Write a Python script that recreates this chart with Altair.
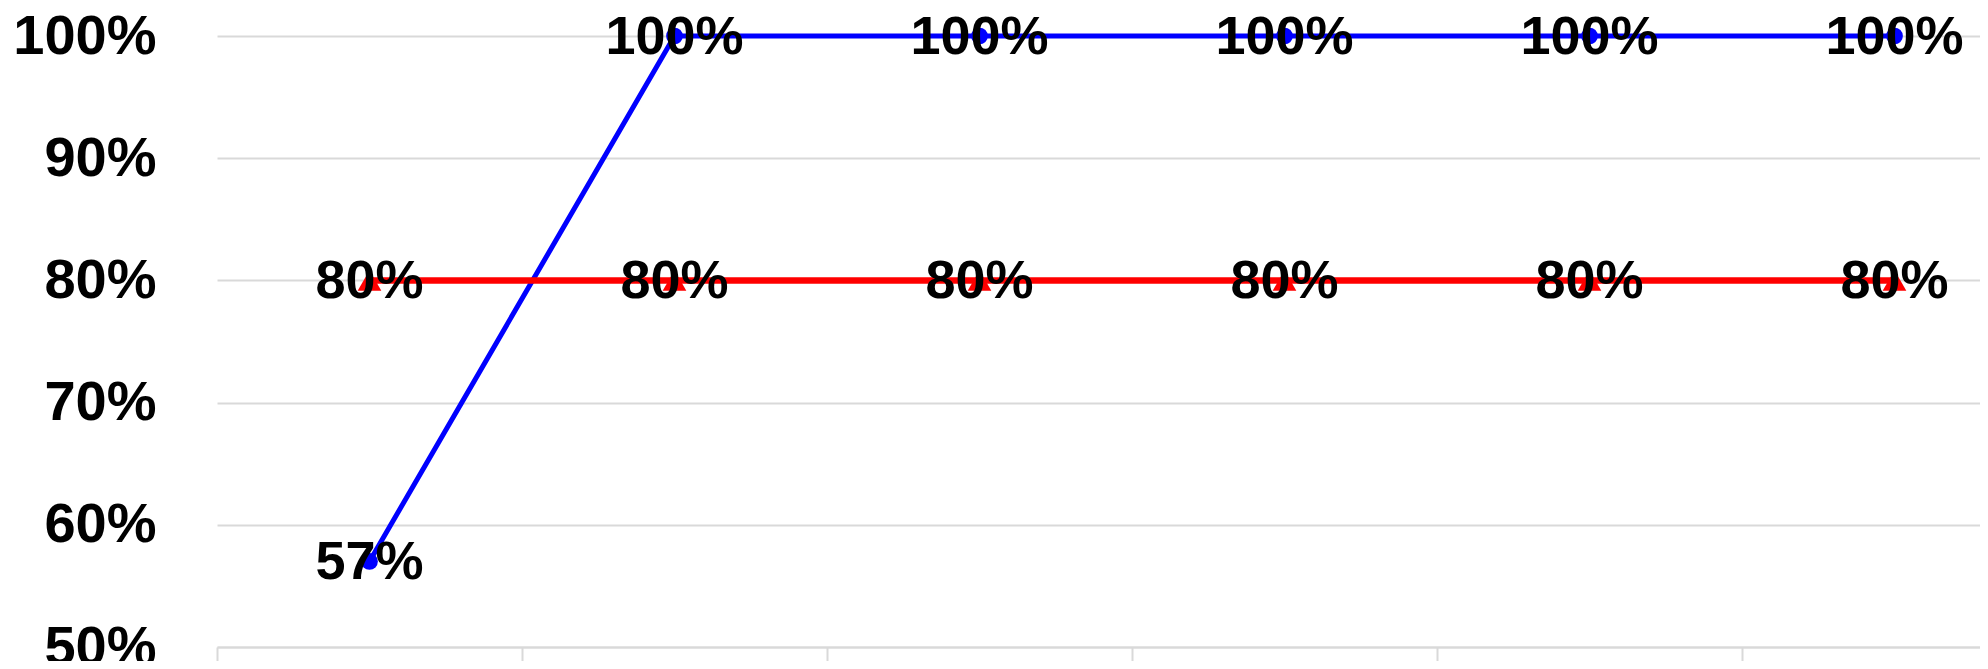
import altair as alt
import pandas as pd

categories = ["1", "2", "3", "4", "5", "6"]
series_names = ["Actual", "Target"]
actual_values = [0.57, 1.00, 1.00, 1.00, 1.00, 1.00]
target_values = [0.80, 0.80, 0.80, 0.80, 0.80, 0.80]
y_ticks = [0.5, 0.6, 0.7, 0.8, 0.9, 1.0]

rows = []
for c, v in zip(categories, actual_values):
    rows.append({"cat": c, "series": series_names[0], "value": v})
for c, v in zip(categories, target_values):
    rows.append({"cat": c, "series": series_names[1], "value": v})
df = pd.DataFrame(rows)

FONT = "Liberation Sans"
GRID = "#d9d9d9"

x = alt.X(
    "cat:N",
    sort=categories,
    bandPosition=0.5,
    scale=alt.Scale(type="band", paddingInner=0, paddingOuter=0, range=[0, 1830]),
    axis=alt.Axis(
        title=None, labels=False, tickBand="extent", tickSize=30,
        tickColor=GRID, tickWidth=2, domainColor=GRID, domainWidth=2, grid=False,
    ),
)
y = alt.Y(
    "value:Q",
    scale=alt.Scale(domain=[0.5, 1.0], nice=False, zero=False),
    axis=alt.Axis(
        values=y_ticks, format=".0%", title=None, domain=False, ticks=False,
        labelFont=FONT, labelFontSize=56, labelFontWeight="bold", labelColor="black",
        labelPadding=61, gridColor=GRID, gridWidth=2,
    ),
)
color = alt.Color("series:N", scale=alt.Scale(domain=series_names, range=["#0000ff", "#ff0000"]), legend=None)

base = alt.Chart(df)

lines = base.mark_line().encode(
    x=x, y=y, color=color,
    strokeWidth=alt.StrokeWidth("series:N", scale=alt.Scale(domain=series_names, range=[5, 6.5]), legend=None),
)
points = base.mark_point(filled=True, opacity=1).encode(
    x=x, y=y, color=color,
    shape=alt.Shape("series:N", scale=alt.Scale(domain=series_names, range=["circle", "triangle-up"]), legend=None),
    size=alt.Size("series:N", scale=alt.Scale(domain=series_names, range=[280, 560]), legend=None),
)
labels = base.mark_text(
    font=FONT, fontSize=54, fontWeight="bold", color="black",
    baseline="middle", align="center", dy=2,
).encode(x=x, y=y, text=alt.Text("value:Q", format=".0%"))

chart = (
    alt.layer(lines, points, labels)
    .properties(
        width=1763, height=611,
        padding={"left": 209, "top": 28, "right": 0, "bottom": 14},
        autosize=alt.AutoSizeParams(type="none"),
    )
    .configure_view(stroke=None)
)

chart.save("out.html", embed_options={"renderer": "svg", "actions": False})
